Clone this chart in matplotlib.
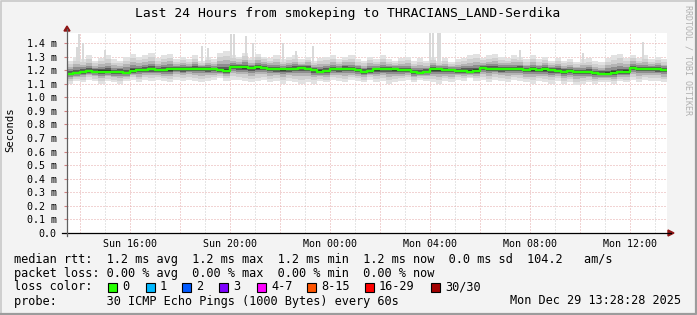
import numpy as np
import matplotlib
matplotlib.use("Agg")
import matplotlib.pyplot as plt
from matplotlib.patches import Polygon, Rectangle
from matplotlib.lines import Line2D

plt.rcParams['font.family'] = ['DejaVu Sans Mono']

W, H = 697, 315

# start of the graph: Sun 13:28:28, hours counted from Sun 00:00
t_start = 13 + 28 / 60 + 28 / 3600
step_h = 0.25  # 15 minute steps

# median rtt in ms, one value per 15 minutes
median_ms = [
    1.175, 1.18,
    1.19, 1.195, 1.19, 1.19,
    1.19, 1.185, 1.19, 1.18,
    1.195, 1.20, 1.20, 1.205, 1.20, 1.20,
    1.205, 1.21, 1.205, 1.21, 1.21, 1.21, 1.205, 1.205, 1.20, 1.197,
    1.225, 1.22, 1.22, 1.215, 1.22, 1.215, 1.21, 1.205,
    1.205, 1.205, 1.21, 1.215, 1.21, 1.20, 1.19, 1.193,
    1.205, 1.205, 1.21, 1.205, 1.20, 1.19, 1.195, 1.205,
    1.205, 1.21, 1.205, 1.20, 1.20, 1.185, 1.18, 1.19,
    1.205, 1.205, 1.20, 1.20, 1.195, 1.195, 1.19, 1.195,
    1.215, 1.21, 1.21, 1.205, 1.21, 1.205, 1.21, 1.20,
    1.205, 1.20, 1.205, 1.20, 1.195, 1.19, 1.195, 1.19,
    1.185, 1.185, 1.18, 1.175, 1.175, 1.18, 1.185, 1.19,
    1.215, 1.21, 1.205, 1.21, 1.205, 1.20,
]

# upper / lower edge of the smoke (slowest / fastest ping), ms
smoke_hi_ms = [
    1.27, 1.30, 1.28, 1.31, 1.27, 1.29,
    1.31, 1.28, 1.27, 1.30, 1.32, 1.30,
    1.31, 1.33, 1.29, 1.31, 1.32, 1.28,
    1.30, 1.28, 1.31, 1.27, 1.30, 1.28,
    1.33, 1.34, 1.31, 1.30, 1.33, 1.29,
    1.32, 1.30, 1.29, 1.31, 1.28, 1.30,
    1.31, 1.28, 1.30, 1.27, 1.29, 1.30,
    1.31, 1.28, 1.30, 1.31, 1.28, 1.27,
    1.30, 1.28, 1.31, 1.28, 1.27, 1.29,
    1.30, 1.27, 1.29, 1.27, 1.30, 1.27,
    1.29, 1.26, 1.28, 1.29, 1.31, 1.32,
    1.29, 1.31, 1.32, 1.30, 1.29, 1.31,
    1.30, 1.28, 1.31, 1.28, 1.30, 1.27,
    1.29, 1.27, 1.28, 1.26, 1.28, 1.29,
    1.27, 1.26, 1.29, 1.31, 1.32, 1.29,
    1.31, 1.29, 1.31, 1.28, 1.30, 1.28,
]
smoke_lo_ms = [
    1.10, 1.12, 1.11, 1.13, 1.12, 1.10,
    1.12, 1.11, 1.10, 1.12, 1.13, 1.11,
    1.13, 1.12, 1.13, 1.12, 1.11, 1.13,
    1.12, 1.13, 1.12, 1.11, 1.12, 1.13,
    1.14, 1.12, 1.13, 1.13, 1.12, 1.11,
    1.12, 1.13, 1.11, 1.12, 1.10, 1.12,
    1.11, 1.10, 1.11, 1.10, 1.12, 1.11,
    1.13, 1.12, 1.11, 1.13, 1.12, 1.11,
    1.13, 1.11, 1.12, 1.10, 1.11, 1.12,
    1.13, 1.11, 1.13, 1.12, 1.11, 1.10,
    1.12, 1.11, 1.13, 1.12, 1.14, 1.12,
    1.13, 1.11, 1.13, 1.12, 1.11, 1.13,
    1.12, 1.11, 1.10, 1.12, 1.11, 1.10,
    1.12, 1.10, 1.11, 1.09, 1.10, 1.11,
    1.10, 1.11, 1.11, 1.10, 1.12, 1.11,
    1.13, 1.11, 1.13, 1.12, 1.12, 1.11,
]

# single tall outlier pings: hours after start, ms
spike_h = [0.40, 0.48, 0.64, 1.52, 5.40, 5.64, 6.56, 6.68, 7.16, 7.44,
           8.64, 9.16, 9.84, 14.52, 14.64, 14.84, 14.92, 18.12, 20.64, 23.04]
spike_ms = [1.37, 1.47, 1.40, 1.35, 1.38, 1.36, 1.47, 1.47, 1.45, 1.40,
            1.40, 1.34, 1.38, 1.48, 1.48, 1.48, 1.48, 1.35, 1.33, 1.41]

xtick_hours = [16, 20, 24, 28, 32, 36]
xtick_labels = ["Sun 16:00", "Sun 20:00", "Mon 00:00", "Mon 04:00", "Mon 08:00", "Mon 12:00"]
ytick_vals = [round(0.1 * i, 1) for i in range(15)]
ytick_labels = ["0.0"] + ["%.1f m" % v for v in ytick_vals[1:]]

loss_labels = ["0", "1", "2", "3", "4-7", "8-15", "16-29", "30/30"]
loss_colors = ["#26ff00", "#00b8ff", "#0059ff", "#7e00ff", "#ff00ff", "#ff5500", "#ff0000", "#a10000"]


def px(x, y):
    return x / W, 1 - y / H


fig = plt.figure(figsize=(W / 100, H / 100), dpi=100, facecolor="#f3f3f3")
ax = fig.add_axes([67 / W, 82 / H, 600 / W, 200.3 / H], facecolor="white")

n = len(median_ms)
t_edges = t_start + step_h * np.arange(n + 1)
med = np.append(median_ms, median_ms[-1])
hi = np.append(smoke_hi_ms, smoke_hi_ms[-1])
lo = np.append(smoke_lo_ms, smoke_lo_ms[-1])

# grid
for h in range(14, 38):
    if h % 2 == 0:
        ax.axvline(h, color="#e4a8a8", lw=0.72, ls=(0, (1, 2)), zorder=1)
    else:
        ax.axvline(h, color="#cccccc", lw=0.72, ls=(0, (1, 2)), zorder=1)
for v in ytick_vals[1:]:
    ax.axhline(v, color="#e4a8a8", lw=0.72, ls=(0, (1, 2)), zorder=1)

# smoke, outer band first
ax.fill_between(t_edges, lo, hi, step="post", color="#e2e2e2", lw=0, zorder=2)
ax.vlines(t_start + np.array(spike_h), 1.2, spike_ms, color="#d8d8d8", lw=1.4, zorder=2)
bands = [(0.75, "#d0d0d0"), (0.52, "#b4b4b4"), (0.34, "#8e8e8e"),
         (0.19, "#5a5a5a"), (0.08, "#2e2e2e")]
for frac, col in bands:
    ax.fill_between(t_edges, med - frac * (med - lo), med + frac * (hi - med),
                    step="post", color=col, lw=0, zorder=3)

ax.step(t_edges, med, where="post", color="#26ff00", lw=1.7, zorder=4)

ax.set_xlim(t_start, t_start + 24)
ax.set_ylim(0, 1.476)
for s in ax.spines.values():
    s.set_visible(False)
ax.set_xticks(xtick_hours)
ax.set_xticklabels(xtick_labels)
ax.set_yticks(ytick_vals)
ax.set_yticklabels(ytick_labels)
ax.tick_params(axis="x", length=0, pad=4, labelsize=7.2)
ax.tick_params(axis="y", length=2.5, color="#d08080", pad=5, labelsize=7.2)

# axis lines and arrows
fig.add_artist(Line2D([62 / W, 671 / W], [1 - 233 / H] * 2, color="black", lw=0.9))
fig.add_artist(Line2D([67 / W] * 2, [1 - 236 / H, 1 - 29 / H], color="#606060", lw=0.9))
fig.add_artist(Polygon([px(64, 31), px(70, 31), px(67, 26)], closed=True,
                       transform=fig.transFigure, color="#8f1414"))
fig.add_artist(Polygon([px(668, 230), px(668, 236), px(674, 233)], closed=True,
                       transform=fig.transFigure, color="#8f1414"))

# border
fig.add_artist(Line2D([0.5 / W, 0.5 / W, 696 / W], [0, 1 - 0.5 / H, 1 - 0.5 / H], color="#c8c8c8", lw=1.2))
fig.add_artist(Line2D([0.5 / W, 696 / W, 696 / W], [1 - 314 / H, 1 - 314 / H, 1], color="#9c9c9c", lw=1.6))

fig.text(*px(348, 14), "Last 24 Hours from smokeping to THRACIANS_LAND-Serdika",
         ha="center", va="center", fontsize=9.4)
fig.text(*px(10, 130), "Seconds", rotation=90, ha="center", va="center", fontsize=7.6)
fig.text(*px(688, 60), "RRDTOOL / TOBI OETIKER", rotation=270, ha="center", va="center",
         fontsize=6, color="#b0b0b0")

fs = 8.6
fig.text(*px(14, 259), "median rtt:  1.2 ms avg  1.2 ms max  1.2 ms min  1.2 ms now  0.0 ms sd  104.2   am/s",
         ha="left", va="center", fontsize=fs)
fig.text(*px(14, 273), "packet loss: 0.00 % avg  0.00 % max  0.00 % min  0.00 % now",
         ha="left", va="center", fontsize=fs)
fig.text(*px(14, 287), "loss color:", ha="left", va="center", fontsize=fs)
box_x = [108, 146, 182, 219, 257, 307, 365, 431]
for bx, lab, col in zip(box_x, loss_labels, loss_colors):
    x0, y0 = px(bx, 291.5)
    fig.add_artist(Rectangle((x0, y0), 9 / W, 9 / H, transform=fig.transFigure,
                             facecolor=col, edgecolor="black", lw=0.8))
    fig.text(*px(bx + 14, 287), lab, ha="left", va="center", fontsize=fs)
fig.text(*px(14, 301), "probe:       30 ICMP Echo Pings (1000 Bytes) every 60s",
         ha="left", va="center", fontsize=fs)
fig.text(*px(681, 301), "Mon Dec 29 13:28:28 2025", ha="right", va="center", fontsize=fs)

fig.savefig("out.png", dpi=100, facecolor=fig.get_facecolor())
